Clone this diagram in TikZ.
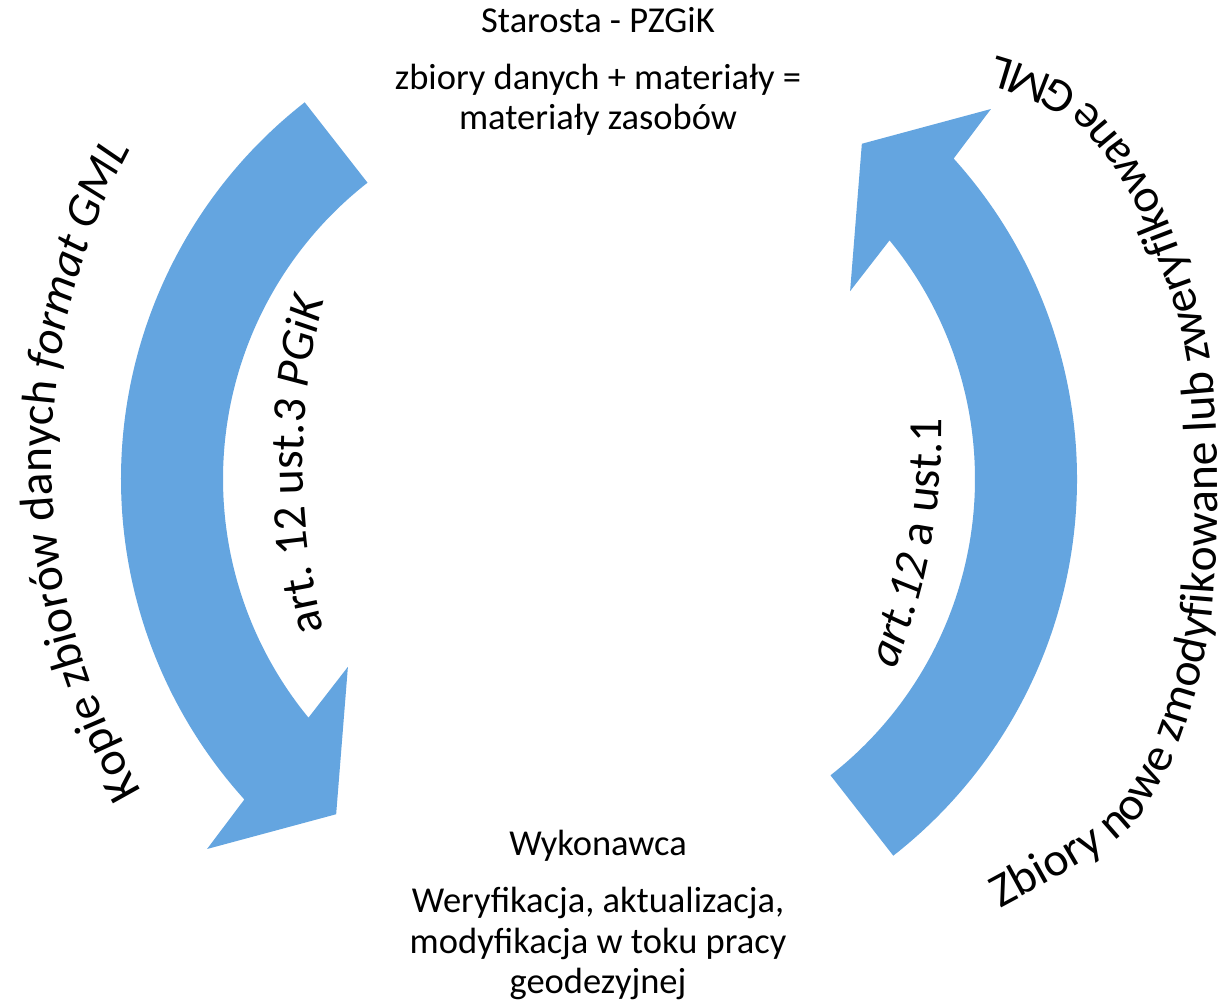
\documentclass[tikz,border=0pt]{standalone}
\usepackage{fontspec}
\setmainfont{Carlito}
\usetikzlibrary{decorations.text}
\definecolor{arrowblue}{RGB}{100,165,224}
\newcommand{\midfnt}{\fontsize{18.25}{20.25}\selectfont}
\newcommand{\lblfnt}{\fontsize{23.8}{28}\selectfont}
\begin{document}
\begin{tikzpicture}[x=0.5pt,y=0.5pt,
  arrowshape/.style={fill=arrowblue},
  midtext/.style={font=\midfnt, anchor=base, inner sep=0pt}]
\fill[white] (0,0) rectangle (1230,1003);
\useasboundingbox (0,0) rectangle (1230,1003);

% curved block arrows (common centre)
\begin{scope}[shift={(599,524)}]
  \fill[arrowshape] (128:478) arc[start angle=128, end angle=222.1, radius=478]
     -- (223.35:539) -- (231.9:426) -- (216.8:313.6) -- (219.4:376)
     arc[start angle=219.4, end angle=128, radius=376] -- cycle;
  \fill[arrowshape] (308:478) arc[start angle=308, end angle=402.1, radius=478]
     -- (403.35:539) -- (411.9:426) -- (396.8:313.6) -- (399.4:376)
     arc[start angle=399.4, end angle=308, radius=376] -- cycle;
\end{scope}

% centre texts
\node[midtext] (starosta) at (598,970) {Starosta - PZGiK};
\node[midtext] (zb1) at (598,913) {zbiory danych + materiały =};
\node[midtext] (zb2) at (598,873) {materiały zasobów};
\node[midtext] (wyk) at (598,148) {Wykonawca};
\node[midtext] (wer1) at (598,91) {Weryfikacja, aktualizacja,};
\node[midtext] (wer2) at (598,50) {modyfikacja w toku pracy};
\node[midtext] (wer3) at (598,10) {geodezyjnej};

% curved labels
\path[decorate, decoration={text along path, text align=center,
   text={|\lblfnt|Kopie zbiorów danych |\lblfnt\itshape|format GML}}]
   (710,543) ++(231:658) arc[start angle=231, end angle=131, radius=658];

\path[decorate, decoration={text along path, text align=center,
   text={|\lblfnt|art. 12 ust.3 |\lblfnt\itshape|PGiK}}]
   (963,538) ++(200:660) arc[start angle=200, end angle=160, radius=660];

\path[decorate, decoration={text along path, text align=center,
   text={|\lblfnt\itshape|art.12 |\lblfnt|a ust.1}}]
   (282,578) ++(-30.6:660) arc[start angle=-30.6, end angle=9.4, radius=660];

\path[decorate, decoration={text along path, text align=left,
   text={|\lblfnt|Zbiory nowe zmodyfikowane lub zweryfikowane GML}}]
   plot[smooth] coordinates {(1000,95) (1065,131) (1128,173) (1169,236) (1196,313)
     (1211,383) (1217,473) (1217,553) (1212,633) (1200,693) (1181,748) (1159,803)
     (1130,853) (1097,893) (1060,923) (1000,946) (940,955) (880,958)};
\end{tikzpicture}
\end{document}
